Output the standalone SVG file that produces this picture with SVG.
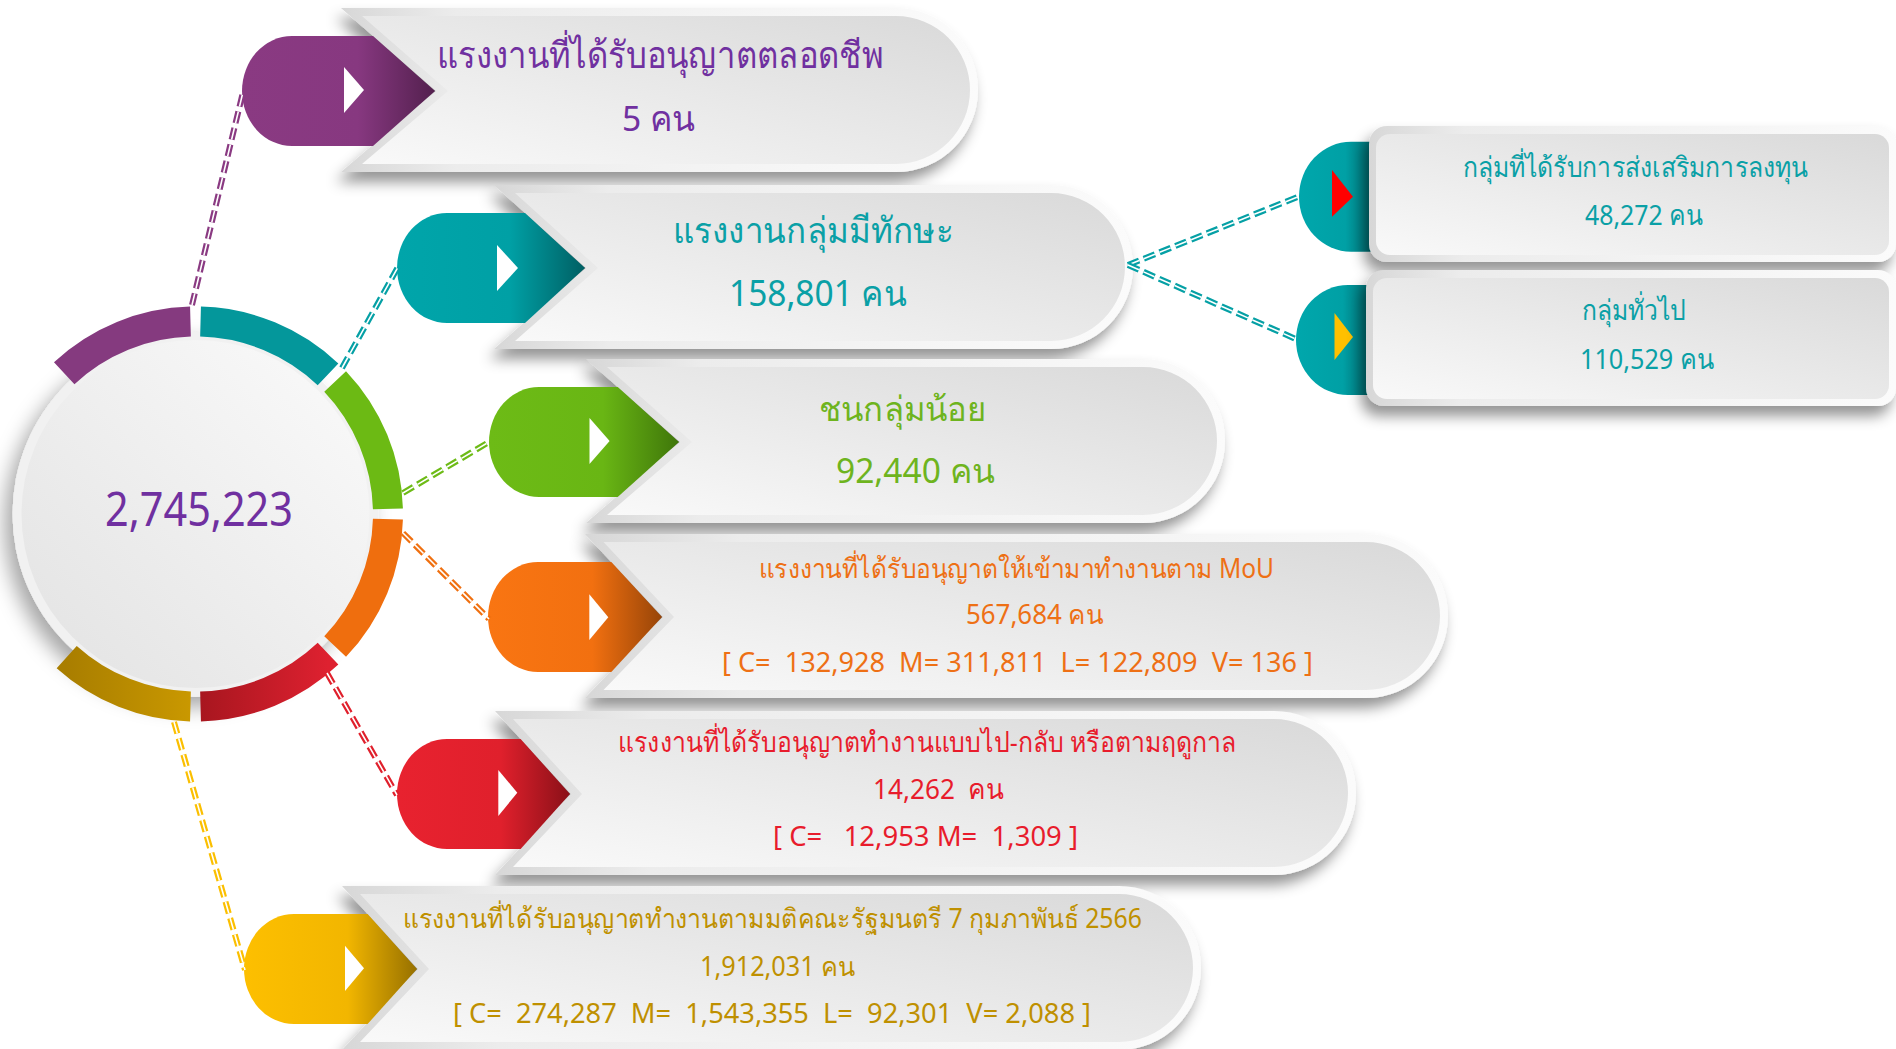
<svg xmlns="http://www.w3.org/2000/svg" width="1896" height="1049" viewBox="0 0 1896 1049">
<style>
.t{font-family:'Noto Sans','DejaVu Sans',sans-serif;white-space:pre}
.cp{fill:#7030a0}.ct{fill:#0aa0a6}.cg{fill:#6eb41e}.co{fill:#ee7015}.cr{fill:#e81c2c}.cy{fill:#bf9000}
.card{filter:url(#sh)}
.bord{fill:url(#gBord)}
.face{fill:url(#gFace)}
.tri{fill:#fff}
.seg{fill:none;stroke-width:30}
.dl{fill:none;stroke-width:6;stroke-dasharray:12 5}
.dw{fill:none;stroke:#fff;stroke-width:1.6;stroke-dasharray:12 5}
</style>
<defs>
<filter id="sh" x="-10%" y="-20%" width="120%" height="150%">
<feDropShadow dx="-5" dy="10" stdDeviation="7" flood-color="#000" flood-opacity="0.42"/>
</filter>
<filter id="shd" x="-20%" y="-20%" width="140%" height="140%">
<feDropShadow dx="-8" dy="10" stdDeviation="10" flood-color="#000" flood-opacity="0.35"/>
</filter>
<linearGradient id="gBord" x1="0" y1="0" x2="1" y2="0">
<stop offset="0" stop-color="#d7d7d7"/><stop offset="0.18" stop-color="#ececec"/><stop offset="1" stop-color="#fbfbfb"/>
</linearGradient>
<linearGradient id="gFace" x1="0" y1="1" x2="1" y2="0">
<stop offset="0" stop-color="#f9f9f9"/><stop offset="1" stop-color="#d9d9d9"/>
</linearGradient>
<linearGradient id="gDisc" x1="1" y1="0" x2="0" y2="1">
<stop offset="0" stop-color="#fbfbfb"/><stop offset="1" stop-color="#e2e2e2"/>
</linearGradient>
<linearGradient id="bP" x1="0" y1="0" x2="1" y2="0"><stop offset="0" stop-color="#8a3a82"/><stop offset="0.6" stop-color="#873880"/><stop offset="1" stop-color="#53204e"/></linearGradient>
<linearGradient id="bT" x1="0" y1="0" x2="1" y2="0"><stop offset="0" stop-color="#00a5aa"/><stop offset="0.6" stop-color="#00a0a5"/><stop offset="1" stop-color="#005f63"/></linearGradient>
<linearGradient id="bG" x1="0" y1="0" x2="1" y2="0"><stop offset="0" stop-color="#6dbb16"/><stop offset="0.6" stop-color="#69b614"/><stop offset="1" stop-color="#3f760a"/></linearGradient>
<linearGradient id="bO" x1="0" y1="0" x2="1" y2="0"><stop offset="0" stop-color="#f97512"/><stop offset="0.6" stop-color="#f27010"/><stop offset="1" stop-color="#974508"/></linearGradient>
<linearGradient id="bR" x1="0" y1="0" x2="1" y2="0"><stop offset="0" stop-color="#e8222f"/><stop offset="0.6" stop-color="#e0202c"/><stop offset="1" stop-color="#8a1018"/></linearGradient>
<linearGradient id="bY" x1="0" y1="0" x2="1" y2="0"><stop offset="0" stop-color="#fdbf00"/><stop offset="0.6" stop-color="#f2b600"/><stop offset="1" stop-color="#967000"/></linearGradient>
<linearGradient id="bS" x1="0" y1="0" x2="1" y2="0"><stop offset="0" stop-color="#00a7ac"/><stop offset="0.45" stop-color="#00a0a5"/><stop offset="0.72" stop-color="#006d71"/></linearGradient>
<linearGradient id="rR" x1="0" y1="0" x2="1" y2="0"><stop offset="0" stop-color="#a8161f"/><stop offset="1" stop-color="#de2130"/></linearGradient>
<linearGradient id="rY" x1="1" y1="0" x2="0" y2="0"><stop offset="0" stop-color="#c99800"/><stop offset="1" stop-color="#a97e00"/></linearGradient>
</defs>
<rect width="1896" height="1049" fill="#fff"/>

<g id="hub">
<circle cx="195.5" cy="514" r="183" fill="#f1f1f1" filter="url(#shd)"/>
<circle cx="195.5" cy="514" r="174" fill="url(#gDisc)"/>
<path class="seg" stroke="#853a7f" d="M64.2 373.2A192.5 192.5 0 0 1 190.46 321.57"/>
<path class="seg" stroke="#04979b" d="M200.54 321.57A192.5 192.5 0 0 1 328.02 374.36"/>
<path class="seg" stroke="#6cba14" d="M335.14 381.48A192.5 192.5 0 0 1 387.93 508.96"/>
<path class="seg" stroke="#ef6e0e" d="M387.93 519.04A192.5 192.5 0 0 1 335.14 646.52"/>
<path class="seg" stroke="url(#rR)" d="M328.02 653.64A192.5 192.5 0 0 1 200.54 706.43"/>
<path class="seg" stroke="url(#rY)" d="M190.46 706.43A192.5 192.5 0 0 1 66.7 657.05"/>
<text class="t cp" x="105" y="526" font-size="47" textLength="188" lengthAdjust="spacingAndGlyphs">2,745,223</text>
</g>

<g id="node-lifetime">
<path class="card bord" d="M341 8H896A82 82 0 0 1 896 172H341L436 91Z"/>
<path class="face" d="M362 16H896A74 74 0 0 1 896 164H362L448 91Z"/>
<path fill="url(#bP)" d="M292 36H373L435 91L373 146H292A50 55 0 0 1 292 36Z"/>
<path class="tri" d="M344 67L364 90L344 113Z"/>
<text class="t cp" x="437" y="68" font-size="37" textLength="446" lengthAdjust="spacingAndGlyphs">แรงงานที่ได้รับอนุญาตตลอดชีพ</text>
<text class="t cp" x="622" y="131" font-size="35" textLength="73" lengthAdjust="spacingAndGlyphs">5 คน</text>
</g>

<g id="node-skilled">
<path class="card bord" d="M494 185H1051A82 82 0 0 1 1051 349H494L586 268Z"/>
<path class="face" d="M515 193H1051A74 74 0 0 1 1051 341H515L598 268Z"/>
<path fill="url(#bT)" d="M447 213H525L585 268L525 323H447A50 55 0 0 1 447 213Z"/>
<path class="tri" d="M497 245L518 268L497 291Z"/>
<text class="t ct" x="673" y="243" font-size="36" textLength="280" lengthAdjust="spacingAndGlyphs">แรงงานกลุ่มมีทักษะ</text>
<text class="t ct" x="729" y="306" font-size="36" textLength="178" lengthAdjust="spacingAndGlyphs">158,801 คน</text>
</g>

<g id="node-minority">
<path class="card bord" d="M586 359H1143A82 82 0 0 1 1143 523H586L680 442Z"/>
<path class="face" d="M607 367H1143A74 74 0 0 1 1143 515H607L692 442Z"/>
<path fill="url(#bG)" d="M539 387H617.7L679 442L617.7 497H539A50 55 0 0 1 539 387Z"/>
<path class="tri" d="M589.5 418L609.6 441L589.5 464Z"/>
<text class="t cg" x="819" y="421" font-size="34" textLength="167" lengthAdjust="spacingAndGlyphs">ชนกลุ่มน้อย</text>
<text class="t cg" x="836" y="483" font-size="34" textLength="159" lengthAdjust="spacingAndGlyphs">92,440 คน</text>
</g>

<g id="node-mou">
<path class="card bord" d="M585 534H1366A82 82 0 0 1 1366 698H585L663 617Z"/>
<path class="face" d="M603.5 542H1366A74 74 0 0 1 1366 690H603.5L674 617Z"/>
<path fill="url(#bO)" d="M538 562H611.3L662 617L611.3 672H538A50 55 0 0 1 538 562Z"/>
<path class="tri" d="M589.3 594.3L608.3 617.3L589.3 640Z"/>
<text class="t co" x="759" y="578" font-size="27" textLength="515" lengthAdjust="spacingAndGlyphs">แรงงานที่ได้รับอนุญาตให้เข้ามาทำงานตาม MoU</text>
<text class="t co" x="966" y="624" font-size="27" textLength="137" lengthAdjust="spacingAndGlyphs">567,684 คน</text>
<text class="t co" x="722" y="672" font-size="27" textLength="591" lengthAdjust="spacingAndGlyphs">[ C=  132,928  M= 311,811  L= 122,809  V= 136 ]</text>
</g>

<g id="node-border">
<path class="card bord" d="M495 711H1274A82 82 0 0 1 1274 875H495L571 794Z"/>
<path class="face" d="M513 719H1274A74 74 0 0 1 1274 867H513L582 794Z"/>
<path fill="url(#bR)" d="M447 739H520.6L570 794L520.6 849H447A50 55 0 0 1 447 739Z"/>
<path class="tri" d="M498.3 770L517.3 792.7L498.3 816Z"/>
<text class="t cr" x="618" y="752" font-size="28" textLength="618" lengthAdjust="spacingAndGlyphs">แรงงานที่ได้รับอนุญาตทำงานแบบไป-กลับ หรือตามฤดูกาล</text>
<text class="t cr" x="873" y="799" font-size="28" textLength="131" lengthAdjust="spacingAndGlyphs">14,262  คน</text>
<text class="t cr" x="773" y="846" font-size="28" textLength="305" lengthAdjust="spacingAndGlyphs">[ C=   12,953 M=  1,309 ]</text>
</g>

<g id="node-cabinet">
<path class="card bord" d="M342 886H1119A82 82 0 0 1 1119 1050H342L418 969Z"/>
<path class="face" d="M360 894H1119A74 74 0 0 1 1119 1042H360L429 969Z"/>
<path fill="url(#bY)" d="M294 914H367.6L417 969L367.6 1024H294A50 55 0 0 1 294 914Z"/>
<path class="tri" d="M345 945.7L364 968.3L345 991Z"/>
<text class="t cy" x="403" y="928" font-size="27" textLength="739" lengthAdjust="spacingAndGlyphs">แรงงานที่ได้รับอนุญาตทำงานตามมติคณะรัฐมนตรี 7 กุมภาพันธ์ 2566</text>
<text class="t cy" x="700" y="976" font-size="27" textLength="155" lengthAdjust="spacingAndGlyphs">1,912,031 คน</text>
<text class="t cy" x="453" y="1023" font-size="27" textLength="638" lengthAdjust="spacingAndGlyphs">[ C=  274,287  M=  1,543,355  L=  92,301  V= 2,088 ]</text>
</g>

<g id="node-boi">
<path fill="url(#bS)" d="M1351 141.7H1402V251.7H1351A52 55 0 0 1 1351 141.7Z"/>
<path class="tri" d="M1332 170L1353 196.7L1332 216.7Z" style="fill:#ff0000"/>
<rect class="card bord" x="1369" y="126" width="527" height="136" rx="18"/>
<rect class="face" x="1376" y="134" width="513" height="121" rx="14"/>
<text class="t ct" x="1463" y="177" font-size="28" textLength="345" lengthAdjust="spacingAndGlyphs">กลุ่มที่ได้รับการส่งเสริมการลงทุน</text>
<text class="t ct" x="1585" y="225" font-size="28" textLength="118" lengthAdjust="spacingAndGlyphs">48,272 คน</text>
</g>

<g id="node-general">
<path fill="url(#bS)" d="M1348 285H1400V395H1348A52 55 0 0 1 1348 285Z"/>
<path class="tri" d="M1334.5 313L1353 337L1334.5 360Z" style="fill:#ffc000"/>
<rect class="card bord" x="1366" y="270" width="530" height="136" rx="18"/>
<rect class="face" x="1373" y="278" width="516" height="121" rx="14"/>
<text class="t ct" x="1582" y="320" font-size="28" textLength="104" lengthAdjust="spacingAndGlyphs">กลุ่มทั่วไป</text>
<text class="t ct" x="1580" y="369" font-size="28" textLength="134" lengthAdjust="spacingAndGlyphs">110,529 คน</text>
</g>

<g id="connectors">
<path class="dl" stroke="#8a3a82" d="M192 305L243 92"/><path class="dw" d="M192 305L243 92"/>
<path class="dl" stroke="#05a0a5" d="M342 368L398 267"/><path class="dw" d="M342 368L398 267"/>
<path class="dl" stroke="#6dbb16" d="M403 493L489 442"/><path class="dw" d="M403 493L489 442"/>
<path class="dl" stroke="#f07010" d="M403 533L489 619"/><path class="dw" d="M403 533L489 619"/>
<path class="dl" stroke="#e0202c" d="M327 673L397 795"/><path class="dw" d="M327 673L397 795"/>
<path class="dl" stroke="#fbbf00" d="M174 722L245 970"/><path class="dw" d="M174 722L245 970"/>
<path class="dl" stroke="#05a0a5" d="M1128 265L1300 196"/><path class="dw" d="M1128 265L1300 196"/>
<path class="dl" stroke="#05a0a5" d="M1128 265L1298 340"/><path class="dw" d="M1128 265L1298 340"/>
</g>
</svg>
